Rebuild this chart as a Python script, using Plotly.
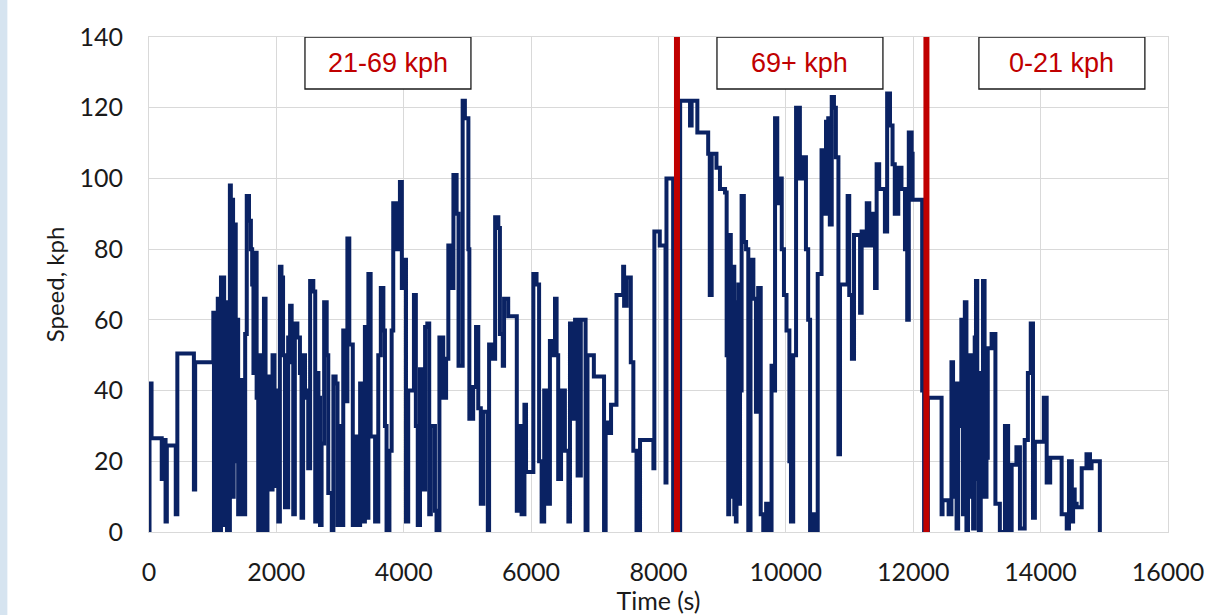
import plotly.graph_objects as go

# ---- data ----
time_s = [0, 8, 40, 200, 230, 260, 280, 420, 445, 705, 725,
          1010, 1020, 1035, 1045, 1055, 1065, 1080, 1095, 1105, 1115, 1130, 1150, 1165, 1180, 1195, 1210,
          1225, 1240, 1255, 1270, 1285, 1295, 1310, 1320, 1330, 1350, 1362, 1375,
          1400, 1430, 1455, 1480, 1510, 1535, 1570, 1600, 1620, 1640, 1660, 1690, 1715, 1740, 1780, 1805,
          1830, 1860, 1885, 1915, 1940, 1970, 2005, 2030, 2055, 2080, 2105, 2135, 2185, 2215, 2240, 2265,
          2290, 2330, 2370, 2395, 2420, 2450, 2475, 2500, 2530, 2580, 2610, 2630, 2660, 2685, 2710, 2750,
          2790, 2815, 2870, 2895, 2930, 2960, 2995, 3025, 3050, 3080, 3115, 3145, 3200, 3235, 3260, 3315,
          3355, 3390, 3420, 3445, 3480, 3550, 3600, 3640, 3680, 3705, 3730, 3775, 3810, 3835, 3880, 3915,
          3940, 3970, 4010, 4035, 4070, 4160, 4190, 4220, 4255, 4295, 4335, 4370, 4400, 4425, 4490, 4515,
          4560, 4620, 4665, 4700, 4750, 4780, 4830, 4860, 4925, 4960, 5015, 5030, 5090, 5135, 5170, 5210,
          5250, 5320, 5340, 5395, 5435, 5485, 5510, 5555, 5575, 5640, 5775, 5810, 5850, 5895, 5920, 6035,
          6085, 6125, 6165, 6205, 6245, 6295, 6320, 6375, 6400, 6425, 6470, 6530, 6585, 6610, 6660, 6690,
          6730, 6780, 6855, 6885, 6985, 7145, 7170, 7220, 7255, 7340, 7445, 7460, 7500, 7565, 7605, 7655,
          7710, 7920, 7935, 8020, 8110, 8125, 8230, 8340, 8495, 8520, 8610, 8780, 8805, 8835, 8910, 8965,
          9045, 9070, 9095, 9110, 9122, 9135, 9150, 9165, 9175, 9190, 9205, 9215, 9225, 9240, 9255, 9265,
          9280, 9305, 9340, 9375, 9410, 9445, 9490,
          9530, 9565, 9605, 9645, 9690, 9740, 9775, 9805, 9830, 9865, 9910, 9935, 9970, 10010, 10055, 10080,
          10115, 10160, 10220, 10265, 10315, 10350, 10380, 10420, 10480, 10500, 10560, 10600, 10630, 10665,
          10690, 10720, 10755, 10785, 10825, 10850, 10970, 10995, 11037, 11070, 11165, 11190, 11240, 11270,
          11310, 11360, 11400, 11425, 11465, 11555, 11590, 11635, 11675, 11710, 11765, 11815, 11870, 11905,
          11930, 11975, 11990, 12140, 12170,
          12230, 12445, 12460, 12555, 12600, 12625, 12640, 12655, 12680, 12705, 12730, 12755, 12780, 12810,
          12835, 12860, 12890, 12915, 12940, 12965, 12985, 13005, 13030, 13060, 13095, 13120, 13150, 13170,
          13230, 13290, 13360, 13440, 13490, 13545, 13620, 13675, 13750, 13800,
          13845, 13880, 13910, 14050, 14095, 14150, 14330, 14410, 14445, 14490, 14510, 14535, 14565, 14645,
          14720, 14775, 14800, 14930]

speed_kph = [0, 42, 26.5, 15, 26, 3, 24.5, 5, 50.5, 12, 48,
             62, 0, 55, 0, 62, 20, 66, 0, 60, 0, 72, 30, 72, 2, 50, 65,
             0, 40, 0, 98, 40, 60, 94, 10, 28, 87, 20, 60,
             5, 35, 43, 5, 56, 95, 88, 80, 70, 45, 79, 38, 0, 50, 0, 66,
             0, 44, 39, 12, 50, 13, 40, 3, 75, 72, 50, 7, 55, 64, 48, 5,
             59, 55, 45, 4, 50, 40, 38, 18, 71, 68, 3, 45, 38, 2, 25, 65,
             50, 11, 0, 44, 42, 2, 30, 2, 57, 37, 83, 53, 2, 27, 2, 42,
             3, 58, 4, 73, 27, 3, 50, 69, 57, 30, 0, 23, 57, 93, 80, 90,
             99, 69, 77, 3, 40, 67, 30, 2, 46, 12, 58, 59, 5, 30, 6, 0,
             55, 38, 49, 81, 69, 101, 90, 47, 122, 117, 80, 32, 41, 58, 35, 8,
             34, 0, 53, 49, 89, 86, 56, 47, 66, 61, 6, 30, 5, 36, 17, 73,
             70, 20, 3, 40, 8, 54, 50, 66, 50, 15, 40, 23, 3, 59, 32, 60,
             16, 60, 0, 50, 44, 0, 31, 28, 36, 67, 75, 64, 72, 48, 23, 0,
             26, 18, 85, 81, 14, 100, 0, 122, 115, 122, 113, 107, 67, 107, 103, 97,
             96, 50, 5, 70, 84, 10, 60, 20, 75, 5, 65, 3, 50, 10, 70, 8,
             40, 95, 82, 80, 0, 77, 66,
             34, 69, 5, 0, 8, 0, 47, 40, 117, 93, 100, 80, 67, 57, 20, 3,
             50, 120, 100, 106, 80, 60, 0, 5, 0, 73, 108, 90, 116, 117,
             87, 123, 120, 106, 22, 70, 95, 67, 49, 84, 62, 85, 81, 93,
             81, 90, 69, 104, 97, 85, 124, 115, 104, 90, 103, 97, 80, 60,
             113, 107, 94, 40, 0,
             38, 5, 9, 5, 48, 10, 40, 42, 1, 30, 42, 60, 5, 65,
             0, 40, 50, 10, 1, 55, 71, 15, 0, 45, 71, 10, 21, 52,
             56, 8, 0, 30, 0, 19, 24, 1, 26, 45,
             59, 4, 25.5, 38, 14, 21, 5, 1, 20, 3, 12, 8, 7, 18,
             22, 18, 20, 0]

boundary_times = [8290, 12207]
region_labels = ["21-69 kph", "69+ kph", "0-21 kph"]
region_box_x = [(2449, 5055), (8918, 11524), (13031, 15637)]

x_ticks = [0, 2000, 4000, 6000, 8000, 10000, 12000, 14000, 16000]
y_ticks = [0, 20, 40, 60, 80, 100, 120, 140]

fig = go.Figure()
fig.add_trace(go.Scatter(
    x=time_s, y=speed_kph, mode="lines",
    line=dict(color="#0A2263", width=4, shape="hv"),
    showlegend=False, hoverinfo="skip"))

shapes = []
for bt in boundary_times:
    shapes.append(dict(type="line", xref="x", yref="y", x0=bt, x1=bt, y0=0, y1=140,
                       line=dict(color="#C00000", width=6), layer="above"))
annotations = []
for lab, (bx0, bx1) in zip(region_labels, region_box_x):
    shapes.append(dict(type="rect", xref="x", yref="y", x0=bx0, x1=bx1, y0=125.3, y1=140,
                       fillcolor="white", line=dict(color="#1a1a1a", width=1.3), layer="above"))
    annotations.append(dict(x=(bx0 + bx1) / 2, y=132.6, xref="x", yref="y", text=lab,
                            showarrow=False, font=dict(family="Liberation Sans, Arial", size=27, color="#C00000")))

# left pale-blue strip of the slide background
shapes.append(dict(type="rect", xref="paper", yref="paper", x0=-0.1462, x1=-0.1390, y0=-0.2, y1=1.1,
                   fillcolor="#D6E4F0", line=dict(width=0), layer="below"))

fig.update_layout(
    width=1209, height=615,
    margin=dict(l=149, r=41, t=37, b=83),
    paper_bgcolor="white", plot_bgcolor="white",
    shapes=shapes, annotations=annotations,
    font=dict(family="Lato, Open Sans, sans-serif", color="#1a1a1a"),
)
fig.update_xaxes(range=[0, 16000], tickvals=x_ticks, ticktext=[str(v) for v in x_ticks],
                 automargin=False,
                 showgrid=True, gridcolor="#D9D9D9", gridwidth=1,
                 showline=True, linecolor="#D9D9D9", mirror=True, zeroline=False,
                 tickfont=dict(size=25, family="Lato"), ticklabelstandoff=18,
                 title=dict(text="Time (s)", font=dict(size=25, family="Lato"), standoff=0))
fig.update_yaxes(range=[0, 140], tickvals=y_ticks, ticktext=[str(v) for v in y_ticks],
                 automargin=False,
                 showgrid=True, gridcolor="#D9D9D9", gridwidth=1,
                 showline=True, linecolor="#D9D9D9", mirror=True, zeroline=False,
                 tickfont=dict(size=25, family="Lato"), ticklabelstandoff=20,
                 title=dict(text="Speed, kph", font=dict(size=24, family="Lato"), standoff=8))

fig.write_html("out.html", config={"displayModeBar": False},
               post_script="document.body.style.margin='0';document.body.style.overflow='hidden';")
